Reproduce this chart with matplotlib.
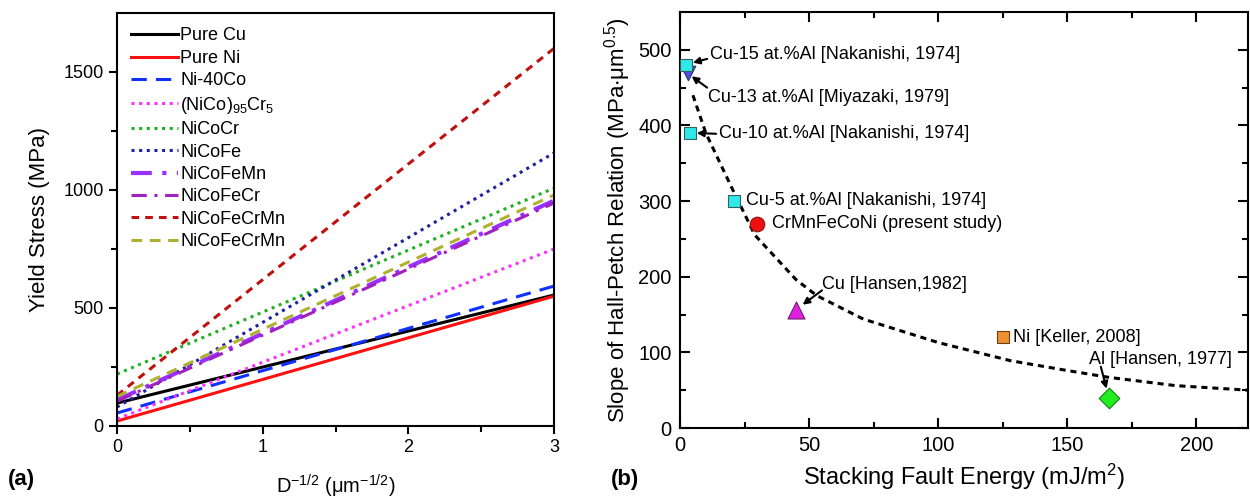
import numpy as np
import matplotlib
matplotlib.use('Agg')
import matplotlib.pyplot as plt

plt.rcParams['font.family'] = ['Liberation Sans', 'DejaVu Sans']
plt.rcParams['mathtext.default'] = 'regular'

# ---- panel (a): Hall-Petch lines, yield stress at D^-1/2 = 0 and 3
alloys = ['Pure Cu', 'Pure Ni', 'Ni-40Co', '(NiCo)$_{95}$Cr$_5$', 'NiCoCr', 'NiCoFe',
          'NiCoFeMn', 'NiCoFeCr', 'NiCoFeCrMn', 'NiCoFeCrMn']
d_inv = [0, 3]
stress_start = [97, 21, 55, 30, 220, 80, 110, 105, 130, 125]
stress_end = [555, 550, 593, 750, 1008, 1157, 955, 945, 1600, 979]

# ---- panel (b): slope vs stacking fault energy
sfe_cu15, k_cu15 = 2.5, 480
sfe_cu13, k_cu13 = 3, 470
sfe_cu10, k_cu10 = 4, 390
sfe_cu5, k_cu5 = 21, 300
sfe_hea, k_hea = 30, 270
sfe_cu, k_cu = 45, 156
sfe_ni, k_ni = 125, 120
sfe_al, k_al = 166, 40

fit_sfe = [5, 10, 20, 29, 45, 53, 71, 100, 128, 150, 166, 192, 220]
fit_k = [440, 390, 318, 255, 196, 175, 144, 113, 89, 76, 67, 56, 50]

styles = [
    dict(color='black', ls='-', lw=2.2),
    dict(color='#ff1010', ls='-', lw=2.2),
    dict(color='#1030ff', ls=(0, (5, 3)), lw=2.2),
    dict(color='#ff30ff', ls=(0, (1, 1.5)), lw=2.2),
    dict(color='#20b020', ls=(0, (1, 1.5)), lw=2.2),
    dict(color='#2020a0', ls=(0, (1, 1.5)), lw=2.2),
    dict(color='#9a30ff', ls=(0, (5, 2.5, 1, 2.5)), lw=3.0),
    dict(color='#a020c0', ls=(0, (5, 2.5, 1, 2.5)), lw=2.2),
    dict(color='#c01010', ls=(0, (2.5, 2)), lw=2.2),
    dict(color='#b0b030', ls=(0, (3.5, 2.5)), lw=2.2),
]

fig = plt.figure(figsize=(12.5, 5), dpi=100)

ax1 = fig.add_axes([0.0936, 0.148, 0.3496, 0.826])
for name, y0, y1, st in zip(alloys, stress_start, stress_end, styles):
    ax1.plot(d_inv, [y0, y1], label=name, **st)
ax1.set_xlim(0, 3)
ax1.set_ylim(0, 1750)
ax1.set_xticks([0, 1, 2, 3])
ax1.set_xticks([0.5, 1.5, 2.5], minor=True)
ax1.set_yticks([0, 500, 1000, 1500])
ax1.set_yticks([250, 750, 1250], minor=True)
ax1.tick_params(which='both', direction='out', labelsize=13, width=1.5)
ax1.tick_params(which='major', length=6)
ax1.tick_params(which='minor', length=4)
for s in ax1.spines.values():
    s.set_linewidth(1.5)
ax1.set_ylabel('Yield Stress (MPa)', fontsize=16, labelpad=10)
ax1.set_xlabel('D$^{-1/2}$ ($\\mu$m$^{-1/2}$)', fontsize=14.5, labelpad=12)
ax1.legend(loc='upper left', frameon=False, fontsize=13, handlelength=2.6,
           labelspacing=0.3, handletextpad=0.1, borderaxespad=0.4)

ax2 = fig.add_axes([0.544, 0.144, 0.4544, 0.832])
ax2.plot(fit_sfe, fit_k, color='black', ls=(0, (2, 1.6)), lw=2.2, zorder=1)
ax2.scatter([sfe_cu15, sfe_cu10, sfe_cu5], [k_cu15, k_cu10, k_cu5], marker='s', s=70,
            color='#30e8e8', edgecolors='#306060', linewidths=0.8, zorder=3)
ax2.scatter([sfe_cu13], [k_cu13], marker='v', s=110, color='#5050e0',
            edgecolors='#303080', linewidths=0.8, zorder=2)
ax2.scatter([sfe_hea], [k_hea], marker='o', s=110, color='#ee1010',
            edgecolors='#901010', linewidths=0.8, zorder=3)
ax2.scatter([sfe_cu], [k_cu], marker='^', s=150, color='#e020e0',
            edgecolors='#702070', linewidths=0.8, zorder=3)
ax2.scatter([sfe_ni], [k_ni], marker='s', s=70, color='#f09030',
            edgecolors='#704010', linewidths=0.8, zorder=3)
ax2.scatter([sfe_al], [k_al], marker='D', s=110, color='#20ee20',
            edgecolors='#108010', linewidths=0.8, zorder=3)

arw = dict(arrowstyle='-|>', color='black', lw=1.5, mutation_scale=10,
           shrinkA=0, shrinkB=0)
fs = 13
ax2.text(11.5, 494, 'Cu-15 at.%Al [Nakanishi, 1974]', va='center', fontsize=fs)
ax2.annotate('', xy=(sfe_cu15 + 2.5, k_cu15 + 3), xytext=(10.5, 488), arrowprops=arw)
ax2.text(10.8, 437, 'Cu-13 at.%Al [Miyazaki, 1979]', va='center', fontsize=fs)
ax2.annotate('', xy=(sfe_cu13 + 1.5, k_cu13 - 5), xytext=(10.5, 450), arrowprops=arw)
ax2.text(15, 389, 'Cu-10 at.%Al [Nakanishi, 1974]', va='center', fontsize=fs)
ax2.annotate('', xy=(sfe_cu10 + 2.5, k_cu10), xytext=(14, 389), arrowprops=arw)
ax2.text(25.5, 301, 'Cu-5 at.%Al [Nakanishi, 1974]', va='center', fontsize=fs)
ax2.text(35.5, 270, 'CrMnFeCoNi (present study)', va='center', fontsize=fs)
ax2.text(55, 190, 'Cu [Hansen,1982]', va='center', fontsize=fs)
ax2.annotate('', xy=(sfe_cu + 2.5, k_cu + 7), xytext=(55, 182), arrowprops=arw)
ax2.text(129, 120, 'Ni [Keller, 2008]', va='center', fontsize=fs)
ax2.text(158.5, 90, 'Al [Hansen, 1977]', va='center', fontsize=fs)
ax2.annotate('', xy=(sfe_al - 0.8, k_al + 12), xytext=(163, 81), arrowprops=arw)

ax2.set_xlim(0, 220)
ax2.set_ylim(0, 550)
ax2.set_xticks([0, 50, 100, 150, 200])
ax2.set_xticks([25, 75, 125, 175], minor=True)
ax2.set_yticks([0, 100, 200, 300, 400, 500])
ax2.set_yticks([50, 150, 250, 350, 450], minor=True)
ax2.tick_params(which='both', direction='in', top=True, right=True,
                labelsize=14.5, width=1.5)
ax2.tick_params(which='major', length=7, pad=6)
ax2.tick_params(which='minor', length=4)
for s in ax2.spines.values():
    s.set_linewidth(1.5)
ax2.set_xlabel('Stacking Fault Energy (mJ/m$^2$)', fontsize=17, labelpad=5)
ax2.set_ylabel('Slope of Hall-Petch Relation (MPa$\\cdot\\mu$m$^{0.5}$)', fontsize=16,
               labelpad=4)

fig.text(0.006, 0.03, '(a)', fontsize=16, fontweight='bold')
fig.text(0.489, 0.03, '(b)', fontsize=16, fontweight='bold')

fig.savefig('out.png', dpi=100)
